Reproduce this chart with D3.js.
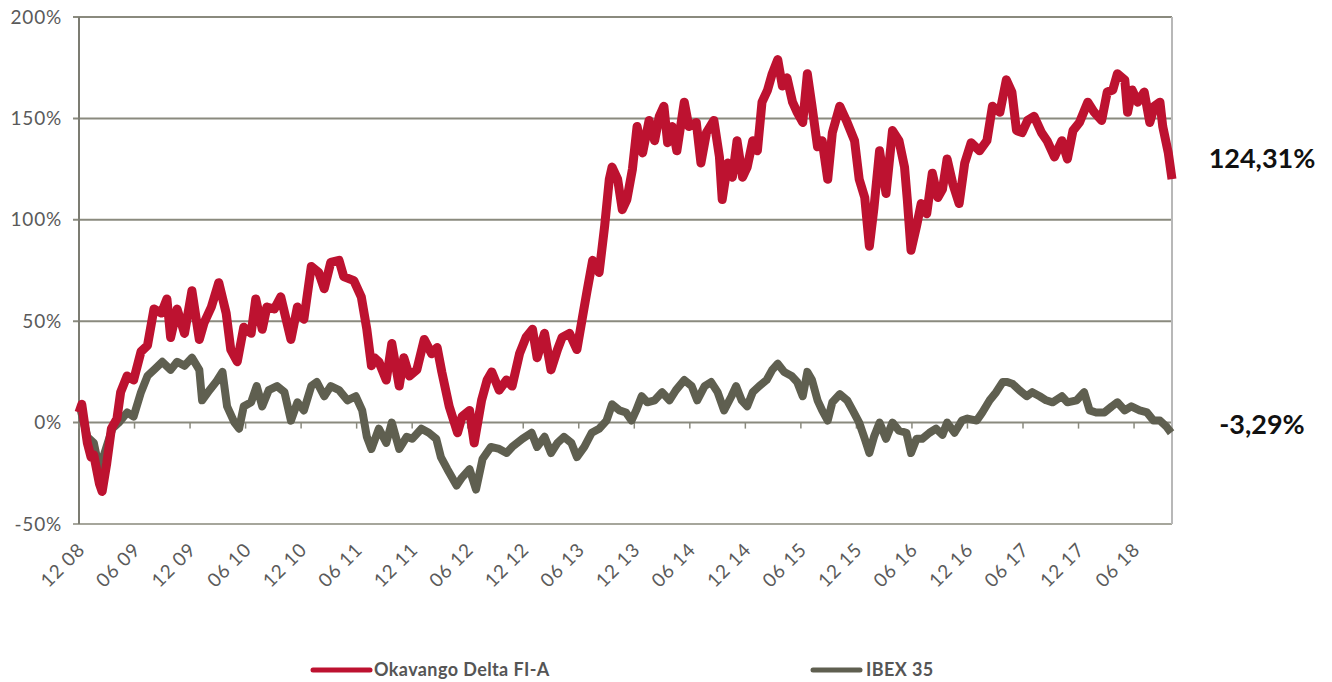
<!DOCTYPE html>
<html>
<head>
<meta charset="utf-8">
<script src="https://cdn.jsdelivr.net/npm/d3@7.9.0/dist/d3.min.js"></script>
<style>
  body { margin: 0; background: #fff; }
  svg { display: block; }
</style>
</head>
<body>
<svg id="chart" width="1332" height="682"></svg>
<script>
// months since Dec 2008 / cumulative return in %
const fundMonths = [0, 0.3, 0.9, 1.3, 1.6, 2.2, 2.5, 3.0, 3.5, 4.1, 4.5, 5.2, 5.9, 6.7, 7.4, 8.1, 8.9, 9.5, 9.9, 10.6,
  11.4, 12.2, 13.0, 13.5, 14.3, 15.1, 15.9, 16.4, 17.1, 17.8, 18.6, 19.1, 19.8, 20.3, 21.1, 21.8, 22.9, 23.6, 24.3, 25.1,
  25.9, 26.5, 27.2, 28.1, 28.6, 29.7, 30.5, 31.1, 31.6, 31.9, 32.4, 33.2, 33.8, 34.6, 35.1, 35.7, 36.5, 37.3, 38.1, 38.7,
  39.2, 40.0, 40.9, 41.4, 42.2, 42.7, 43.5, 44.1, 44.6, 45.4, 46.2, 46.8, 47.6, 48.3, 49.0, 49.5, 50.3, 51.0, 51.7, 52.2,
  53.0, 53.8, 54.4, 54.9, 55.5, 56.2, 56.8, 57.3, 57.6, 58.2, 58.7, 59.2, 59.8, 60.3, 60.9, 61.6, 62.2, 62.7, 63.2, 63.6,
  64.1, 64.6, 65.4, 65.9, 66.7, 67.2, 67.8, 68.6, 69.2, 69.5, 70.1, 70.6, 71.1, 71.7, 72.2, 72.8, 73.3, 73.8, 74.4, 74.9,
  75.5, 76.0, 76.5, 77.1, 77.6, 78.2, 78.7, 79.2, 79.8, 80.3, 80.9, 81.4, 82.2, 83.0, 83.8, 84.3, 84.9, 85.4, 85.9, 86.5,
  87.2, 87.9, 88.6, 89.2, 89.5, 89.9, 90.5, 91.0, 91.6, 92.2, 92.8, 93.3, 93.8, 94.4, 95.1, 95.7, 96.4, 97.3, 98.1, 98.7,
  99.5, 100.2, 100.8, 101.3, 101.9, 102.5, 103.2, 104.0, 104.6, 105.4, 106.2, 106.8, 107.4, 108.1, 109.0, 109.7, 110.5,
  111.1, 111.7, 112.2, 113.0, 113.3, 113.8, 114.4, 115.1, 115.7, 116.2, 116.8, 117.1, 117.7, 118.1];
const fundValues = [5, 9, -10, -17, -16, -30, -34, -20, -3, 2, 15, 23, 21, 35, 38, 56, 54, 61, 42, 56,
  44, 65, 41, 49, 57, 69, 54, 36, 30, 47, 44, 61, 46, 57, 56, 62, 41, 57, 51, 77,
  74, 66, 79, 80, 72, 70, 62, 46, 28, 32, 30, 21, 39, 18, 32, 23, 26, 41, 34, 37,
  25, 8, -5, 3, 6, -10, 11, 21, 25, 16, 21, 18, 34, 42, 46, 32, 44, 26, 36, 42,
  44, 36, 52, 65, 80, 74, 97, 120, 126, 120, 105, 110, 125, 146, 133, 149, 139, 151, 156, 138,
  146, 134, 158, 146, 148, 128, 143, 149, 131, 110, 128, 121, 139, 121, 126, 139, 134, 158, 164, 172,
  179, 166, 170, 158, 153, 148, 172, 156, 136, 139, 120, 143, 156, 148, 139, 120, 111, 87, 106, 134,
  113, 144, 139, 126, 110, 85, 97, 108, 103, 123, 111, 115, 130, 118, 108, 128, 138, 134, 139, 156,
  153, 169, 163, 144, 143, 149, 151, 143, 139, 131, 139, 130, 144, 148, 158, 153, 149,
  163, 164, 172, 169, 153, 164, 158, 163, 148, 156, 158, 146, 133, 120];

const ibexMonths = [0, 0.2, 0.9, 1.6, 2.2, 2.9, 3.6, 4.3, 5.2, 5.9, 6.7, 7.4, 8.1, 9.0, 9.9, 10.6, 11.4, 12.2, 13.0, 13.3,
  14.1, 14.8, 15.5, 16.0, 16.8, 17.3, 17.8, 18.6, 19.2, 19.8, 20.5, 21.4, 22.2, 22.9, 23.6, 24.3, 25.1, 25.7, 26.5, 27.2,
  28.1, 29.0, 29.9, 30.6, 31.1, 31.6, 32.4, 33.2, 33.8, 34.6, 35.4, 36.0, 37.0, 37.8, 38.6, 39.1, 39.8, 40.8, 41.4, 42.2,
  42.9, 43.6, 44.5, 45.4, 46.2, 46.8, 47.9, 48.9, 49.5, 50.3, 51.0, 51.7, 52.4, 53.2, 53.8, 54.6, 55.4, 56.2, 57.0, 57.6,
  58.4, 59.1, 59.7, 60.2, 60.8, 61.4, 62.2, 63.0, 63.8, 64.5, 65.4, 66.2, 66.8, 67.6, 68.3, 69.0, 69.7, 70.5, 71.0, 71.6,
  72.2, 72.8, 73.5, 74.3, 74.9, 75.5, 76.2, 77.0, 77.6, 78.2, 78.7, 79.2, 79.8, 80.3, 80.9, 81.4, 82.2, 83.0, 83.6, 84.3,
  84.9, 85.4, 85.9, 86.5, 87.2, 87.9, 88.6, 89.4, 89.9, 90.5, 91.1, 91.9, 92.6, 93.3, 93.8, 94.6, 95.4, 96.0, 97.0, 97.6,
  98.4, 99.1, 99.8, 100.3, 100.9, 101.6, 102.4, 103.0, 103.8, 104.5, 105.2, 106.2, 106.8, 107.8, 108.6, 109.2, 109.9,
  110.8, 111.6, 112.2, 113.0, 113.7, 114.6, 115.4, 116.1, 116.8, 117.5, 118.0];
const ibexValues = [5, 6, -7, -10, -23, -13, -3, 0, 5, 3, 15, 23, 26, 30, 26, 30, 28, 32, 26, 11,
  16, 20, 25, 8, 0, -3, 8, 10, 18, 8, 16, 18, 15, 1, 10, 6, 18, 20, 13, 18,
  16, 11, 13, 6, -7, -13, -3, -10, 0, -13, -7, -8, -3, -5, -8, -17, -23, -31, -27, -23,
  -33, -18, -12, -13, -15, -12, -8, -5, -12, -7, -15, -10, -7, -10, -17, -12, -5, -3, 1, 9,
  6, 5, 1, 6, 13, 10, 11, 15, 11, 16, 21, 18, 11, 18, 20, 15, 6, 13, 18, 11,
  8, 15, 18, 21, 26, 29, 25, 23, 20, 13, 25, 21, 11, 6, 1, 10, 14, 11, 6, 0,
  -8, -15, -7, 0, -8, 0, -4, -5, -15, -8, -8, -5, -3, -6, 0, -5, 1, 2, 1, 5,
  11, 15, 20, 20, 19, 16, 13, 15, 13, 11, 10, 13, 10, 11, 15, 6, 5,
  5, 8, 10, 6, 8, 6, 5, 1, 1, -2, -5];

const tickMonths = d3.range(0, 115, 6);
const tickLabels = ["12 08", "06 09", "12 09", "06 10", "12 10", "06 11", "12 11", "06 12", "12 12", "06 13",
  "12 13", "06 14", "12 14", "06 15", "12 15", "06 16", "12 16", "06 17", "12 17", "06 18"];
const yTicks = [-50, 0, 50, 100, 150, 200];
const seriesNames = ["Okavango Delta FI-A", "IBEX 35"];
const finalLabels = ["124,31%", "-3,29%"];

const red = "#bd1230";
const grey = "#5f5f50";
const labelFont = "Lato, 'Open Sans', sans-serif";

const svg = d3.select("#chart");
const plot = { left: 79, right: 1172, top: 17, bottom: 524 };

const x = d3.scaleLinear().domain([0, 118.1]).range([plot.left, plot.right]);
const y = d3.scaleLinear().domain([-50, 200]).range([plot.bottom, plot.top]);

// horizontal gridlines
svg.append("g")
  .selectAll("line")
  .data(yTicks)
  .join("line")
  .attr("x1", plot.left - 6)
  .attr("x2", plot.right)
  .attr("y1", (d) => y(d))
  .attr("y2", (d) => y(d))
  .attr("stroke", (d) => (d === -50 ? "#a6a69c" : "#8a8a7e"))
  .attr("stroke-width", 2);

// y labels
svg.append("g")
  .selectAll("text")
  .data(yTicks)
  .join("text")
  .attr("x", 62)
  .attr("y", (d) => y(d))
  .attr("dy", "0.35em")
  .attr("text-anchor", "end")
  .attr("fill", "#5a5a5a")
  .style("font", `19px ${labelFont}`)
  .style("letter-spacing", "0.8px")
  .text((d) => d + "%");

// left axis + right frame
svg.append("line")
  .attr("x1", plot.left).attr("x2", plot.left)
  .attr("y1", plot.top).attr("y2", plot.bottom)
  .attr("stroke", "#7c7c72").attr("stroke-width", 2);
svg.append("line")
  .attr("x1", plot.right).attr("x2", plot.right)
  .attr("y1", plot.top).attr("y2", plot.bottom)
  .attr("stroke", "#b8b8b8").attr("stroke-width", 2);

// x ticks on the zero line
svg.append("g")
  .selectAll("line")
  .data(tickMonths)
  .join("line")
  .attr("x1", (d) => x(d))
  .attr("x2", (d) => x(d))
  .attr("y1", y(0))
  .attr("y2", y(0) + 6)
  .attr("stroke", "#8a8a7e")
  .attr("stroke-width", 1.5);

// x labels
svg.append("g")
  .selectAll("text")
  .data(tickMonths)
  .join("text")
  .attr("transform", (d) => `translate(${x(d) + 7},${plot.bottom + 27}) rotate(-45)`)
  .attr("text-anchor", "end")
  .attr("fill", "#5a5a5a")
  .style("font", `19px ${labelFont}`)
  .style("letter-spacing", "0.8px")
  .text((d, i) => tickLabels[i]);

const line = d3.line()
  .x((d) => x(d[0]))
  .y((d) => y(d[1]));

const ibexData = d3.zip(ibexMonths, ibexValues);
const fundData = d3.zip(fundMonths, fundValues);

svg.append("path")
  .datum(ibexData)
  .attr("d", line)
  .attr("fill", "none")
  .attr("stroke", grey)
  .attr("stroke-width", 8)
  .attr("stroke-linejoin", "round");

svg.append("path")
  .datum(fundData)
  .attr("d", line)
  .attr("fill", "none")
  .attr("stroke", red)
  .attr("stroke-width", 9)
  .attr("stroke-linejoin", "round");

// final values at the right
const lastVals = [fundValues[fundValues.length - 1], ibexValues[ibexValues.length - 1]];
const labelShift = [10, 4];
svg.append("g")
  .selectAll("text")
  .data(finalLabels)
  .join("text")
  .attr("x", 1262)
  .attr("y", (d, i) => y(lastVals[i] + labelShift[i]))
  .attr("dy", "0.35em")
  .attr("text-anchor", "middle")
  .attr("fill", "#111")
  .style("font", `bold 27px ${labelFont}`)
  .text((d) => d);

// legend
const legendX = [313, 813];
const legend = svg.append("g")
  .selectAll("g")
  .data(seriesNames)
  .join("g")
  .attr("transform", (d, i) => `translate(${legendX[i]},670)`);
legend.append("line")
  .attr("x1", 0).attr("x2", (d, i) => (i === 0 ? 57 : 47))
  .attr("stroke", (d, i) => (i === 0 ? red : grey))
  .attr("stroke-width", 5)
  .attr("stroke-linecap", "round");
legend.append("text")
  .attr("x", (d, i) => (i === 0 ? 61 : 53))
  .attr("dy", "0.35em")
  .attr("fill", "#555")
  .style("font", `bold 18px ${labelFont}`)
  .style("letter-spacing", "0.4px")
  .text((d) => d);
</script>
</body>
</html>
